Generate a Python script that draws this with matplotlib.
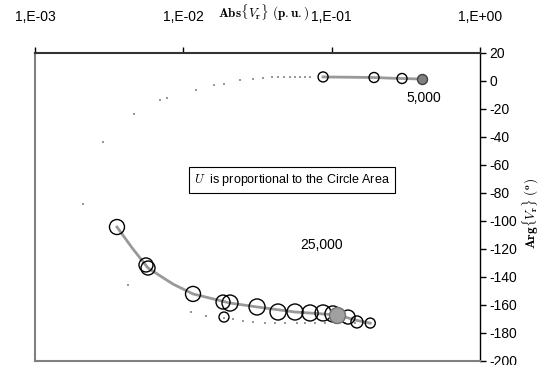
import numpy as np
import matplotlib.pyplot as plt

plt.rcParams['font.family'] = ['Liberation Sans', 'DejaVu Sans']
plt.rcParams['mathtext.fontset'] = 'cm'
plt.rcParams['axes.unicode_minus'] = False

# upper branch (5,000)
up_dot_x = [0.00211, 0.00287, 0.00465, 0.00697, 0.00776, 0.01218, 0.0161, 0.0188,
            0.0240, 0.0295, 0.0345, 0.0396, 0.0435, 0.0477, 0.0524, 0.0566, 0.0614, 0.066, 0.0715]
up_dot_y = [-88, -43.6, -23.6, -13.6, -12.1, -6.4, -2.9, -2.1,
            0.5, 1.5, 2.3, 2.9, 2.9, 2.9, 2.9, 2.9, 2.9, 2.9, 2.9]
up_line_x = [0.0875, 0.13, 0.193, 0.25, 0.298, 0.407]
up_line_y = [2.9, 2.7, 2.5, 2.0, 1.8, 1.4]
up_circ_x = [0.0875, 0.193, 0.298]
up_circ_y = [2.9, 2.5, 1.8]
up_circ_r = [5, 5, 5]
up_fill_x = [0.407]
up_fill_y = [1.4]

# lower branch (25,000)
lo_dot_x = [0.00422, 0.01127, 0.01422, 0.0188, 0.0216, 0.0253, 0.0295, 0.0356, 0.0415,
            0.0485, 0.0584, 0.066, 0.0774, 0.0901, 0.105, 0.123, 0.144, 0.168]
lo_dot_y = [-145.7, -165, -167.9, -169.3, -170, -171.4, -172.1, -172.9, -172.9,
            -173, -173, -173, -173, -173, -173, -173, -173, -173]
lo_line_x = [0.00357, 0.0045, 0.00578, 0.0085, 0.01162, 0.02064, 0.0314, 0.0566, 0.109, 0.148, 0.182]
lo_line_y = [-104.3, -119, -133.6, -145, -152.1, -158.6, -161.4, -165, -167.1, -171, -173]
lo_circ_x = [0.00357, 0.00560, 0.00578, 0.01162, 0.01852, 0.02064, 0.0314, 0.0435, 0.0566,
             0.0715, 0.0875, 0.102, 0.129, 0.148, 0.182, 0.0188]
lo_circ_y = [-104.3, -131.4, -133.6, -152.1, -157.9, -158.6, -161.4, -165, -165,
             -165.7, -165.7, -166.4, -168.6, -172.1, -172.9, -168.6]
lo_circ_r = [7.5, 7, 7, 7.5, 7, 8, 8, 8, 8, 8, 8, 8, 7, 6, 5, 5]
lo_fill_x = [0.109]
lo_fill_y = [-167.1]
lo_fill_r = [8]

xticks = [1e-3, 1e-2, 1e-1, 1e0]
xlabels = ['1,E-03', '1,E-02', '1,E-01', '1,E+00']
yticks = list(range(-200, 21, 20))


def msize(r):
    return (np.array(r) * 2 * 0.72) ** 2


fig = plt.figure(figsize=(5.41, 3.65), dpi=100)
ax = fig.add_axes([35 / 541, 1 - 361 / 365, 445 / 541, 308 / 365])
ax.set_xscale('log')
ax.set_xlim(1e-3, 1)
ax.set_ylim(-200, 20)

ax.scatter(up_dot_x, up_dot_y, s=2, marker='s', color='#999999', lw=0, zorder=2)
ax.scatter(lo_dot_x, lo_dot_y, s=2, marker='s', color='#999999', lw=0, zorder=2)
ax.plot(up_line_x, up_line_y, color='#999999', lw=2, zorder=2)
ax.plot(lo_line_x, lo_line_y, color='#999999', lw=2, zorder=2)
ax.scatter(up_circ_x, up_circ_y, s=msize(up_circ_r), facecolors='none', edgecolors='black', lw=1, zorder=3)
ax.scatter(lo_circ_x, lo_circ_y, s=msize(lo_circ_r), facecolors='none', edgecolors='black', lw=1, zorder=3)
ax.scatter(up_fill_x, up_fill_y, s=msize([5]), facecolors='#808080', edgecolors='#404040', lw=1, zorder=4)
ax.scatter(lo_fill_x, lo_fill_y, s=msize(lo_fill_r), facecolors='#a0a0a0', edgecolors='#707070', lw=1, zorder=4)

ax.text(0.42, -12, '5,000', fontsize=10, ha='center', va='center')
ax.text(0.085, -117, '25,000', fontsize=10, ha='center', va='center')
ax.text(0.054, -71, r'$\mathit{U}$  is proportional to the Circle Area', fontsize=9,
        ha='center', va='center',
        bbox=dict(boxstyle='square,pad=0.4', facecolor='white', edgecolor='black', lw=0.8))

ax.xaxis.tick_top()
ax.set_xticks(xticks)
ax.set_xticklabels(xlabels)
ax.xaxis.set_minor_locator(plt.NullLocator())
ax.yaxis.tick_right()
ax.set_yticks(yticks)
ax.tick_params(axis='both', direction='out', length=4, width=1, labelsize=10, pad=3)
ax.tick_params(axis='x', pad=17)

for s in ['left', 'bottom']:
    ax.spines[s].set_color('#808080')
    ax.spines[s].set_linewidth(1.5)
ax.spines['top'].set_linewidth(1.5)
ax.spines['top'].set_color('#333333')
ax.spines['right'].set_linewidth(1)

fig.text(264 / 541, 1 - 13 / 365, r'$\mathbf{Abs\{}\mathbf{\mathit{V}_{r}}\mathbf{\}\ (p.u.)}$',
         fontsize=9.5, ha='center', va='center')
fig.text(531 / 541, 1 - 213 / 365, r'$\mathbf{Arg\{}\mathbf{\mathit{V}_{r}}\mathbf{\}\ (^o)}$',
         fontsize=9.5, ha='center', va='center', rotation=90)

fig.savefig('out.png', dpi=100)
